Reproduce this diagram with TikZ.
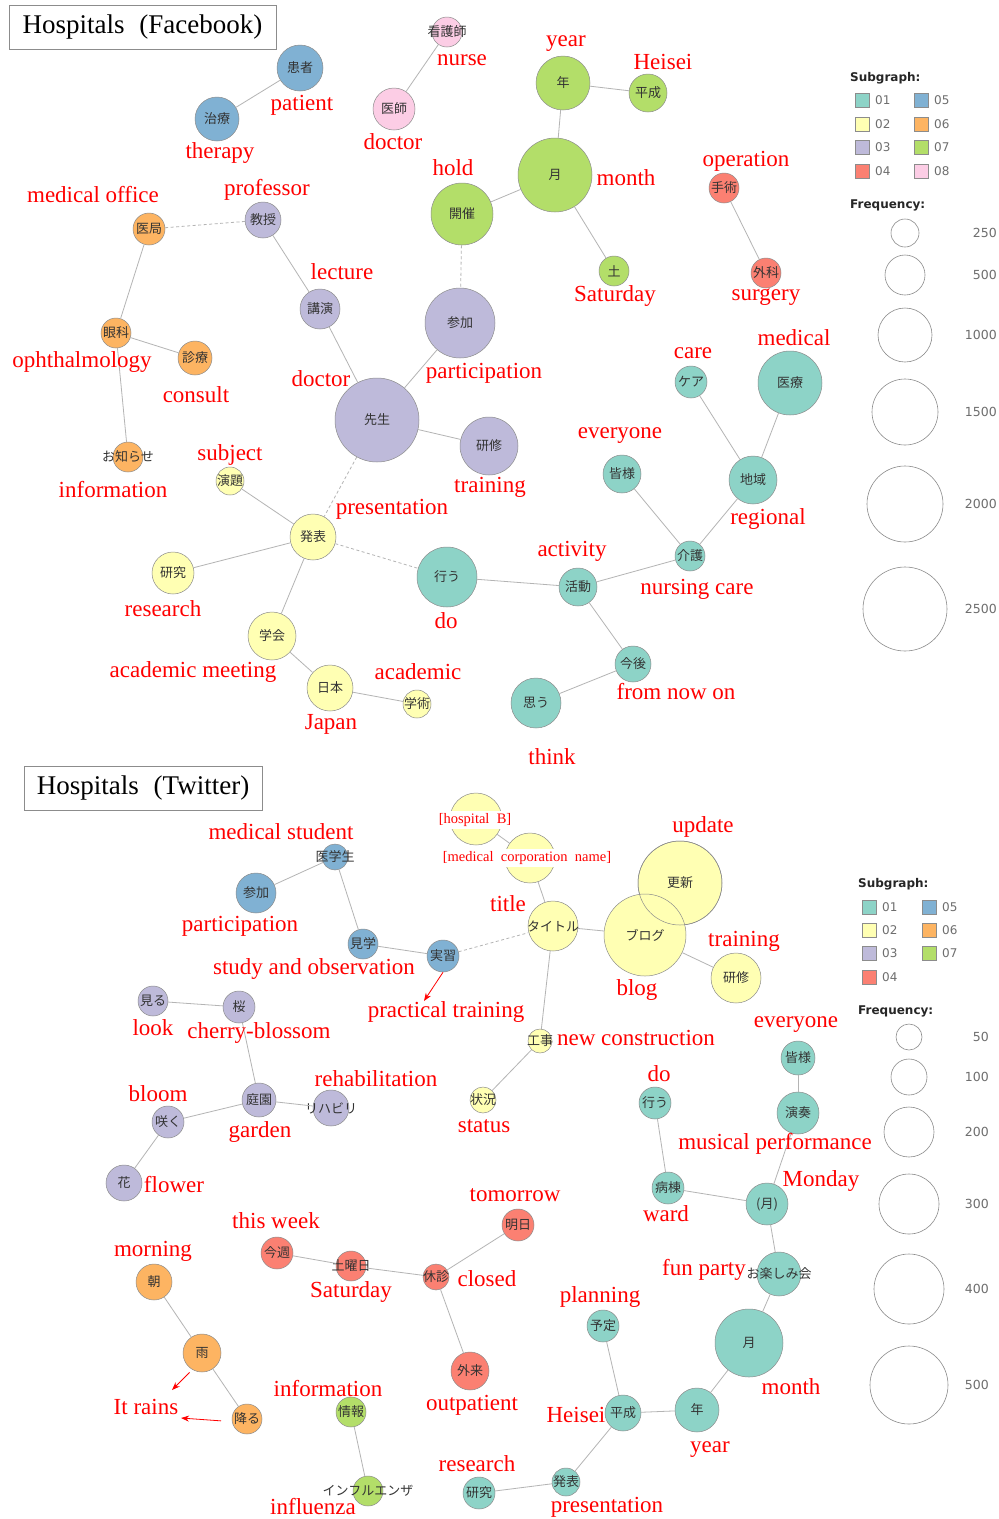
\documentclass[tikz,border=0pt]{standalone}
\usepackage{fontspec}
\setmainfont{Liberation Serif}
\newfontfamily\jpfont{Noto Sans CJK JP}
\newfontfamily\legfont{DejaVu Sans}
\usepackage{tikz}
\usetikzlibrary{arrows.meta}
\definecolor{sgTeal}{HTML}{8DD3C7}
\definecolor{sgYellow}{HTML}{FFFFB3}
\definecolor{sgLilac}{HTML}{BEBADA}
\definecolor{sgSalmon}{HTML}{FB8072}
\definecolor{sgBlue}{HTML}{80B1D3}
\definecolor{sgOrange}{HTML}{FDB462}
\definecolor{sgGreen}{HTML}{B3DE69}
\definecolor{sgPink}{HTML}{FCCDE5}
\definecolor{edgegray}{HTML}{B4B4B4}
\definecolor{ringgray}{HTML}{8C8C8C}
\definecolor{leggray}{HTML}{6E6E6E}

\tikzset{
  word/.style={circle, draw=ringgray, line width=0.5pt, inner sep=0pt, text=black!80,
    font=\jpfont\fontsize{13}{13}\selectfont},
  gloss/.style={text=red, inner sep=1pt, yshift=-2pt, font=\fontsize{23}{25}\selectfont},
  tag/.style={text=red, fill=white, inner sep=2pt, font=\fontsize{14.5}{16}\selectfont},
  link/.style={draw=edgegray, line width=0.8pt},
  weak/.style={link, dash pattern=on 3pt off 2.5pt},
  pointer/.style={draw=red, line width=0.8pt, -{Stealth[length=8pt, width=6pt]}},
  heading/.style={draw=ringgray, line width=0.6pt, minimum height=44pt, inner sep=0pt,
    font=\fontsize{27}{30}\selectfont},
  leghead/.style={anchor=west, inner sep=0pt, text=black!85, font=\legfont\bfseries\fontsize{12}{14}\selectfont},
  legnum/.style={anchor=west, inner sep=0pt, text=leggray, font=\legfont\fontsize{12}{14}\selectfont},
  legval/.style={anchor=east, inner sep=0pt, text=leggray, font=\legfont\fontsize{12.5}{14}\selectfont},
  swatch/.style={draw=ringgray, line width=0.5pt, minimum size=14pt, inner sep=0pt},
  sizering/.style={circle, draw=ringgray, line width=0.6pt, inner sep=0pt}
}

\begin{document}
\begin{tikzpicture}[x=1pt, y=-1pt]

  \fill[white] (0,0) rectangle (999,1519);
  \useasboundingbox (0,0) rectangle (999,1519);

  %% ---------------- Facebook network ----------------
  \node[heading, minimum width=267pt] (fbTitle) at (142.5,27) {\raisebox{-2pt}{Hospitals\hspace{0.55em}(Facebook)}};

  %% word nodes: name/x/y/radius/subgraph colour/word
  \foreach \nm/\x/\y/\r/\c/\kw in {
    fbKanja/300/68/23/sgBlue/患者,
    fbChiryo/217/119/22/sgBlue/治療,
    fbKangoshi/447/32/15/sgPink/看護師,
    fbIshi/394/109/21/sgPink/医師,
    fbNen/563/83/27/sgGreen/年,
    fbHeisei/648/93/19/sgGreen/平成,
    fbTsuki/555/175/37/sgGreen/月,
    fbKaisai/462/214/31/sgGreen/開催,
    fbDo/614/271/15/sgGreen/土,
    fbSanka/460/323/35/sgLilac/参加,
    fbShujutsu/724/188/15/sgSalmon/手術,
    fbGeka/766/273/15/sgSalmon/外科,
    fbIryo/790/383/32/sgTeal/医療,
    fbCare/691/382/16/sgTeal/ケア,
    fbChiiki/753/480/24/sgTeal/地域,
    fbKaigo/690/556/15/sgTeal/介護,
    fbMinasama/622/474/19/sgTeal/皆様,
    fbKatsudo/578/587/19/sgTeal/活動,
    fbOkonau/447/577/30/sgTeal/行う,
    fbKongo/633/664/18/sgTeal/今後,
    fbOmou/536/703/25/sgTeal/思う,
    fbSensei/377/420/42/sgLilac/先生,
    fbKenshu/489/446/29/sgLilac/研修,
    fbKoen/320/309/20/sgLilac/講演,
    fbKyoju/263/220/18/sgLilac/教授,
    fbIkyoku/149/229/16/sgOrange/医局,
    fbGanka/116/333/15/sgOrange/眼科,
    fbShinryo/195/358/17/sgOrange/診療,
    fbOshirase/128/457/15/sgOrange/お知らせ,
    fbEndai/230/481/14/sgYellow/演題,
    fbHappyo/313/537/23/sgYellow/発表,
    fbKenkyu/173/573/21/sgYellow/研究,
    fbGakkai/272/636/24/sgYellow/学会,
    fbNihon/330/688/23/sgYellow/日本,
    fbGakujutsu/417/704/14/sgYellow/学術}{
    \node[word, fill=\c, minimum size={2*\r*1pt}] (\nm) at (\x,\y) {\makebox[0pt]{\kw}};
  }

  \foreach \a/\b in {
    fbKanja/fbChiryo, fbKangoshi/fbIshi, fbNen/fbHeisei, fbNen/fbTsuki, fbTsuki/fbKaisai,
    fbTsuki/fbDo, fbShujutsu/fbGeka, fbCare/fbChiiki, fbIryo/fbChiiki, fbChiiki/fbKaigo,
    fbMinasama/fbKaigo, fbKaigo/fbKatsudo, fbOkonau/fbKatsudo, fbKatsudo/fbKongo,
    fbKongo/fbOmou, fbSensei/fbSanka, fbSensei/fbKenshu, fbKoen/fbSensei, fbKyoju/fbKoen,
    fbIkyoku/fbGanka, fbGanka/fbShinryo, fbGanka/fbOshirase, fbEndai/fbHappyo,
    fbKenkyu/fbHappyo, fbHappyo/fbGakkai, fbGakkai/fbNihon, fbNihon/fbGakujutsu}{
    \draw[link] (\a) -- (\b);
  }
  \foreach \a/\b in {fbKaisai/fbSanka, fbIkyoku/fbKyoju, fbSensei/fbHappyo, fbHappyo/fbOkonau}{
    \draw[weak] (\a) -- (\b);
  }

  %% English glosses
  \foreach \nm/\x/\y/\txt in {
    fbKanjaL/302/103/patient, fbChiryoL/220/151/therapy, fbKangoshiL/462/58/nurse,
    fbIshiL/393/140/doctor, fbNenL/566/42/year, fbHeiseiL/663/60/Heisei,
    fbTsukiL/626/176/month, fbKaisaiL/453/166/hold, fbDoL/615/294/Saturday,
    fbSankaL/484/371/participation, fbShujutsuL/746/159/operation, fbGekaL/766/295/surgery,
    fbIryoL/794/336/medical, fbCareL/693/351/care, fbChiikiL/768/517/regional,
    fbKaigoL/697/587/nursing care, fbMinasamaL/620/434/everyone, fbKatsudoL/572/549/activity,
    fbOkonauL/446/619/do, fbKongoL/676/690/from now on, fbOmouL/552/755/think,
    fbSenseiL/321/377/doctor, fbKenshuL/490/485/training, fbKoenL/342/270/lecture,
    fbKyojuL/267/188/professor, fbIkyokuL/93/193/medical office,
    fbGankaL/82/360/ophthalmology, fbShinryoL/196/393/consult, fbOshiraseL/113/488/information,
    fbEndaiL/230/453/subject, fbHappyoL/392/507/presentation, fbKenkyuL/163/607/research,
    fbGakkaiL/193/670/academic meeting, fbNihonL/331/722/Japan, fbGakujutsuL/418/670/academic}{
    \node[gloss] (\nm) at (\x,\y) {\txt};
  }

  %% legend
  \node[leghead] (fbLegSub) at (850,78) {Subgraph:};
  \foreach \i/\c/\x/\y in {01/sgTeal/862/100, 02/sgYellow/862/124, 03/sgLilac/862/147,
    04/sgSalmon/862/171, 05/sgBlue/921/100, 06/sgOrange/921/124, 07/sgGreen/921/147,
    08/sgPink/921/171}{
    \node[swatch, fill=\c] (fbSw\i) at (\x,\y) {};
    \node[legnum] (fbSwNum\i) at ({\x+13},\y) {\i};
  }
  \node[leghead] (fbLegFreq) at (850,205) {Frequency:};
  \foreach \v/\y/\r in {250/233/14, 500/275/20, 1000/335/27, 1500/412/33, 2000/504/38, 2500/609/42}{
    \node[sizering, minimum size={2*\r*1pt}] (fbRing\v) at (905,\y) {};
    \node[legval] (fbRingVal\v) at (997,\y) {\v};
  }

  %% ---------------- Twitter network ----------------
  \node[heading, minimum width=238pt] (twTitleBox) at (143,788) {\raisebox{-2pt}{Hospitals\hspace{0.55em}(Twitter)}};

  \foreach \nm/\x/\y/\r/\c/\kw in {
    twIgakusei/335/857/13/sgBlue/医学生,
    twSanka/256/893/20/sgBlue/参加,
    twKengaku/363/944/15/sgBlue/見学,
    twJisshu/443/956/16/sgBlue/実習,
    twTitle/553/926/25/sgYellow/タイトル,
    twHospB/476/819/26/sgYellow/{},
    twCorp/530/858/25/sgYellow/{},
    twKoshin/680/883/42/sgYellow/更新,
    twBlog/645/935/41/sgYellow/ブログ,
    twKenshu/736/978/25/sgYellow/研修,
    twKoji/540/1041/12/sgYellow/工事,
    twJokyo/483/1100/13/sgYellow/状況,
    twMiru/153/1001/15/sgLilac/見る,
    twSakura/239/1007/16/sgLilac/桜,
    twTeien/259/1100/17/sgLilac/庭園,
    twReha/331/1108/18/sgLilac/リハビリ,
    twSaku/168/1122/16/sgLilac/咲く,
    twHana/124/1183/18/sgLilac/花,
    twOkonau/655/1103/16/sgTeal/行う,
    twMinasama/798/1058/17/sgTeal/皆様,
    twEnso/798/1113/21/sgTeal/演奏,
    twByoto/668/1188/16/sgTeal/病棟,
    twGetsu/767/1204/21/sgTeal/(月),
    twOtanoshimi/779/1274/22/sgTeal/お楽しみ会,
    twTsuki/749/1343/34/sgTeal/月,
    twNen/697/1410/22/sgTeal/年,
    twHeisei/623/1413/18/sgTeal/平成,
    twYotei/603/1326/16/sgTeal/予定,
    twHappyo/566/1482/14/sgTeal/発表,
    twKenkyu/479/1493/16/sgTeal/研究,
    twKonshu/277/1253/16/sgSalmon/今週,
    twDoyobi/351/1266/15/sgSalmon/土曜日,
    twKyushin/436/1277/13/sgSalmon/休診,
    twAsu/518/1225/16/sgSalmon/明日,
    twGairai/470/1371/19/sgSalmon/外来,
    twAsa/154/1282/18/sgOrange/朝,
    twAme/202/1353/19/sgOrange/雨,
    twFuru/247/1419/15/sgOrange/降る,
    twJoho/351/1412/15/sgGreen/情報,
    twInflu/368/1491/15/sgGreen/インフルエンザ}{
    \node[word, fill=\c, minimum size={2*\r*1pt}] (\nm) at (\x,\y) {\makebox[0pt]{\kw}};
  }
  %% overlapping bubbles: keep the ring of the lower one visible
  \draw[draw=ringgray, line width=0.5pt] (twKoshin.center) circle[radius=42];

  \foreach \a/\b in {
    twIgakusei/twSanka, twIgakusei/twKengaku, twKengaku/twJisshu, twHospB/twCorp,
    twCorp/twTitle, twTitle/twBlog, twBlog/twKenshu, twTitle/twKoji, twKoji/twJokyo,
    twMiru/twSakura, twSakura/twTeien, twTeien/twReha, twTeien/twSaku, twSaku/twHana,
    twOkonau/twByoto, twByoto/twGetsu, twMinasama/twEnso, twEnso/twGetsu,
    twGetsu/twOtanoshimi, twOtanoshimi/twTsuki, twTsuki/twNen, twNen/twHeisei,
    twHeisei/twYotei, twHeisei/twHappyo, twHappyo/twKenkyu, twKonshu/twDoyobi,
    twDoyobi/twKyushin, twKyushin/twAsu, twKyushin/twGairai, twAsa/twAme, twAme/twFuru,
    twJoho/twInflu}{
    \draw[link] (\a) -- (\b);
  }
  \draw[weak] (twJisshu) -- (twTitle);

  \foreach \nm/\x/\y/\txt in {
    twIgakuseiL/281/830/medical student, twSankaL/240/924/participation,
    twKengakuL/314/967/study and observation, twJisshuL/446/1010/practical training,
    twTitleL/508/902/title, twKoshinL/703/825/update, twBlogL/637/988/blog,
    twKenshuL/744/939/training, twKojiL/636/1036/new construction, twJokyoL/484/1124/status,
    twMiruL/153/1026/look, twSakuraL/259/1031/cherry-blossom, twTeienL/260/1130/garden,
    twRehaL/376/1077/rehabilitation, twSakuL/158/1092/bloom, twHanaL/174/1182/flower,
    twOkonauL/659/1072/do, twMinasamaL/796/1023/everyone, twEnsoL/775/1142/musical performance,
    twByotoL/666/1212/ward, twGetsuL/821/1179/Monday, twOtanoshimiL/704/1268/fun party,
    twTsukiL/791/1385/month, twNenL/710/1448/year, twHeiseiL/576/1413/Heisei,
    twYoteiL/600/1295/planning, twHappyoL/607/1505/presentation, twKenkyuL/477/1462/research,
    twKonshuL/276/1219/this week, twDoyobiL/351/1290/Saturday, twKyushinL/487/1277/closed,
    twAsuL/515/1193/tomorrow, twGairaiL/472/1403/outpatient, twAsaL/153/1249/morning,
    twRainsL/146/1405/It rains, twJohoL/328/1386/information, twInfluL/313/1504/influenza}{
    \node[gloss] (\nm) at (\x,\y) {\txt};
  }
  \node[tag] (twHospBL) at (475,820) {[hospital~~B]};
  \node[tag] (twCorpL) at (527,858) {[medical~~corporation~~name]};

  %% red pointers
  \coordinate (twPracTip) at (424,1001);
  \coordinate (twRainTipA) at (172,1390);
  \coordinate (twRainTipB) at (181,1418);
  \draw[pointer] (twJisshu.south) -- (twPracTip);
  \draw[pointer, shorten <=4pt] (twAme.240) -- (twRainTipA);
  \draw[pointer, shorten <=11pt] (twFuru.190) -- (twRainTipB);

  %% legend
  \node[leghead] (twLegSub) at (858,884) {Subgraph:};
  \foreach \i/\c/\x/\y in {01/sgTeal/869/907, 02/sgYellow/869/930, 03/sgLilac/869/953,
    04/sgSalmon/869/977, 05/sgBlue/929/907, 06/sgOrange/929/930, 07/sgGreen/929/953}{
    \node[swatch, fill=\c] (twSw\i) at (\x,\y) {};
    \node[legnum] (twSwNum\i) at ({\x+13},\y) {\i};
  }
  \node[leghead] (twLegFreq) at (858,1011) {Frequency:};
  \foreach \v/\y/\r in {50/1037/13, 100/1077/18, 200/1132/25, 300/1204/30, 400/1289/35, 500/1385/39}{
    \node[sizering, minimum size={2*\r*1pt}] (twRing\v) at (909,\y) {};
    \node[legval] (twRingVal\v) at (989,\y) {\v};
  }

\end{tikzpicture}
\end{document}
